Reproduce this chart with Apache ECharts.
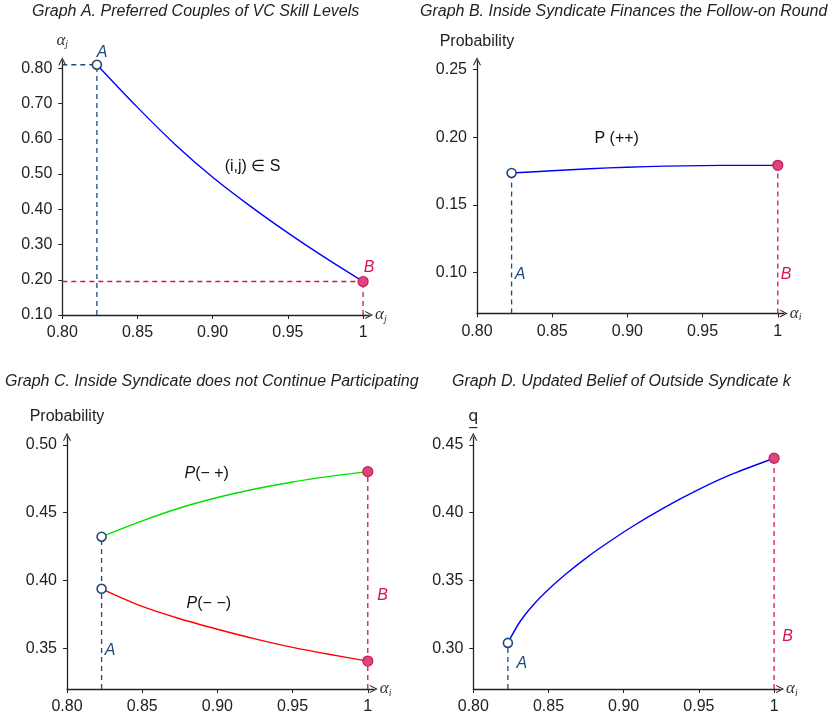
<!DOCTYPE html>
<html>
<head>
<meta charset="utf-8">
<script src="https://cdn.jsdelivr.net/npm/echarts@6/dist/echarts.min.js"></script>
<style>
  html, body { margin: 0; padding: 0; background: #fff; }
  #chart { width: 830px; height: 719px; }
</style>
</head>
<body>
<div id="chart"></div>
<script>
// tick labels
var xTicks = [0.80, 0.85, 0.90, 0.95, 1];
var yTicksA = [0.10, 0.20, 0.30, 0.40, 0.50, 0.60, 0.70, 0.80];
var yTicksB = [0.10, 0.15, 0.20, 0.25];
var yTicksC = [0.35, 0.40, 0.45, 0.50];
var yTicksD = [0.30, 0.35, 0.40, 0.45];

// Graph A: preferred couples
var alphaA = [0.823, 0.85, 0.875, 0.90, 0.925, 0.95, 0.975, 1.0];
var skillJ = [0.810, 0.689, 0.584, 0.491, 0.409, 0.333, 0.262, 0.195];

// Graph B: P(++)
var alphaB = [0.823, 0.85, 0.875, 0.90, 0.925, 0.95, 0.975, 1.0];
var probPP = [0.1736, 0.1752, 0.1767, 0.1778, 0.1786, 0.1790, 0.1792, 0.1792];

// Graph C: P(-+) and P(--)
var alphaC = [0.823, 0.85, 0.875, 0.90, 0.925, 0.95, 0.975, 1.0];
var probMP = [0.4323, 0.4440, 0.4535, 0.4612, 0.4675, 0.4727, 0.4768, 0.4803];
var probMM = [0.3939, 0.3809, 0.3718, 0.3641, 0.3570, 0.3507, 0.3454, 0.3406];

// Graph D: updated belief q
var alphaD = [0.823, 0.831, 0.840, 0.851, 0.862, 0.873, 0.884, 0.905, 0.927, 0.950, 0.972, 1.0];
var beliefQ = [0.304, 0.3196, 0.3322, 0.3445, 0.3552, 0.3649, 0.3738, 0.3893, 0.4038, 0.4172, 0.4284, 0.4402];

var FONT = 'Liberation Sans';
var colA = '#1f4a78';
var colB = '#d0145a';
var arrow = 'path://M0,10 L5,0 L10,10 L8.6,10 L5,2.8 L1.4,10 Z';

function zip(xs, ys) {
    return xs.map(function (x, i) { return [x, ys[i]]; });
}
function first(xs, ys) { return [xs[0], ys[0]]; }
function last(xs, ys) { return [xs[xs.length - 1], ys[ys.length - 1]]; }

var alphaRich = {
    a: { fontFamily: 'Liberation Serif', fontStyle: 'italic', fontSize: 17, color: '#333' },
    s: { fontFamily: 'Liberation Serif', fontStyle: 'italic', fontSize: 10, color: '#333', padding: [8, 0, 0, 0] }
};

function xAxis(gi, sub) {
    return {
        type: 'value', gridIndex: gi, min: 0.80, max: 1.004,
        axisLine: { lineStyle: { color: '#222', width: 1.3 }, symbol: ['none', arrow], symbolSize: [8, 8] },
        axisTick: { customValues: xTicks, length: 4, lineStyle: { color: '#222' } },
        axisLabel: {
            customValues: xTicks, margin: 10, fontSize: 16, color: '#222', fontFamily: FONT,
            formatter: function (v) { return v === 1 ? '1' : v.toFixed(2); }
        },
        splitLine: { show: false },
        name: '{a|α}{s|' + sub + '}', nameLocation: 'end', nameGap: 6,
        nameTextStyle: { rich: alphaRich, verticalAlign: 'middle' }
    };
}

function yAxis(gi, min, max, ticks, name, nameStyle) {
    return {
        type: 'value', gridIndex: gi, min: min, max: max,
        axisLine: { show: true, lineStyle: { color: '#222', width: 1.3 }, symbol: ['none', arrow], symbolSize: [8, 8] },
        axisTick: { show: true, customValues: ticks, length: 4, lineStyle: { color: '#222' } },
        axisLabel: {
            customValues: ticks, margin: 10, fontSize: 16, color: '#222', fontFamily: FONT,
            formatter: function (v) { return v.toFixed(2); }
        },
        splitLine: { show: false },
        name: name, nameLocation: 'end', nameGap: 12,
        nameTextStyle: nameStyle
    };
}

function curve(gi, data, color) {
    return {
        type: 'line', xAxisIndex: gi, yAxisIndex: gi, data: data,
        smooth: 0.3, showSymbol: false, symbol: 'none', z: 3,
        lineStyle: { color: color, width: 1.4 }
    };
}
function dashed(gi, data, color) {
    return {
        type: 'line', xAxisIndex: gi, yAxisIndex: gi, data: data,
        symbol: 'none', z: 2, silent: true,
        lineStyle: { color: color, width: 1.3, type: [5, 4] }
    };
}
function markA(gi, pts) {
    return {
        type: 'scatter', xAxisIndex: gi, yAxisIndex: gi, data: pts, z: 5,
        symbol: 'circle', symbolSize: 9,
        itemStyle: { color: '#fff', borderColor: colA, borderWidth: 1.6, opacity: 1 }
    };
}
function markB(gi, pts) {
    return {
        type: 'scatter', xAxisIndex: gi, yAxisIndex: gi, data: pts, z: 5,
        symbol: 'circle', symbolSize: 10,
        itemStyle: { color: '#d9497a', borderColor: colB, borderWidth: 1.2, opacity: 1 }
    };
}
function note(gi, pos, text, style) {
    return {
        type: 'scatter', xAxisIndex: gi, yAxisIndex: gi, clip: false, silent: true, z: 6,
        symbolSize: 0.1, itemStyle: { color: 'transparent' },
        data: [{ value: pos }],
        label: Object.assign({
            show: true, position: 'inside', formatter: text, opacity: 1,
            fontFamily: FONT, fontSize: 16, color: '#111'
        }, style || {})
    };
}
var italA = { fontStyle: 'italic', color: colA };
var italB = { fontStyle: 'italic', color: colB };
var italP = { rich: { i: { fontStyle: 'italic', fontFamily: FONT, fontSize: 16, color: '#111' } } };

var titleStyle = { fontFamily: FONT, fontStyle: 'italic', fontWeight: 'normal', fontSize: 16, color: '#222' };
var probName = { fontFamily: FONT, fontSize: 16, color: '#222', align: 'center' };

var chart = echarts.init(document.getElementById('chart'));
var option = {
    animation: false,
    title: [
        { text: 'Graph A. Preferred Couples of VC Skill Levels', left: 27, top: -1, textStyle: titleStyle },
        { text: 'Graph B. Inside Syndicate Finances the Follow-on Round', left: 415, top: -1, textStyle: titleStyle },
        { text: 'Graph C. Inside Syndicate does not Continue Participating', left: 0, top: 369, textStyle: titleStyle },
        { text: 'Graph D. Updated Belief of Outside Syndicate k', left: 447, top: 369, textStyle: titleStyle }
    ],
    grid: [
        { left: 62.3, top: 61.2, width: 306.8, height: 253.8, containLabel: false, outerBoundsMode: 'none' },
        { left: 477, top: 61.2, width: 306.8, height: 252.2, containLabel: false, outerBoundsMode: 'none' },
        { left: 67, top: 436.8, width: 306.8, height: 252.2, containLabel: false, outerBoundsMode: 'none' },
        { left: 473.3, top: 436.8, width: 306.8, height: 252.2, containLabel: false, outerBoundsMode: 'none' }
    ],
    xAxis: [xAxis(0, 'j'), xAxis(1, 'i'), xAxis(2, 'i'), xAxis(3, 'i')],
    yAxis: [
        yAxis(0, 0.10, 0.82, yTicksA, '{a|α}{s|j}', { rich: alphaRich, align: 'center' }),
        yAxis(1, 0.07, 0.256, yTicksB, 'Probability', probName),
        yAxis(2, 0.32, 0.506, yTicksC, 'Probability', probName),
        yAxis(3, 0.27, 0.456, yTicksD, 'q\u0332', { fontFamily: 'DejaVu Sans', fontSize: 16, color: '#222', align: 'center' })
    ],
    series: [
        // Graph A
        dashed(0, [[0.80, skillJ[0]], first(alphaA, skillJ)], colA),
        dashed(0, [[alphaA[0], 0.10], first(alphaA, skillJ)], colA),
        dashed(0, [[0.80, skillJ[skillJ.length - 1]], last(alphaA, skillJ)], colB),
        dashed(0, [[1.0, 0.10], last(alphaA, skillJ)], colB),
        curve(0, zip(alphaA, skillJ), '#0000ff'),
        markA(0, [first(alphaA, skillJ)]),
        markB(0, [last(alphaA, skillJ)]),
        note(0, [0.8265, 0.845], 'A', italA),
        note(0, [1.004, 0.235], 'B', italB),
        note(0, [0.9265, 0.521], '(i,j) \u2208 S'),

        // Graph B
        dashed(1, [[alphaB[0], 0.07], first(alphaB, probPP)], colA),
        dashed(1, [[1.0, 0.07], last(alphaB, probPP)], colB),
        curve(1, zip(alphaB, probPP), '#0000ff'),
        markA(1, [first(alphaB, probPP)]),
        markB(1, [last(alphaB, probPP)]),
        note(1, [0.8286, 0.0986], 'A', italA),
        note(1, [1.0055, 0.0986], 'B', italB),
        note(1, [0.8929, 0.1987], 'P (++)'),

        // Graph C
        dashed(2, [[alphaC[0], 0.32], first(alphaC, probMP)], colA),
        dashed(2, [[1.0, 0.32], last(alphaC, probMP)], colB),
        curve(2, zip(alphaC, probMP), '#00e000'),
        curve(2, zip(alphaC, probMM), '#ff0000'),
        markA(2, [first(alphaC, probMP), first(alphaC, probMM)]),
        markB(2, [last(alphaC, probMP), last(alphaC, probMM)]),
        note(2, [0.8286, 0.3487], 'A', italA),
        note(2, [1.0099, 0.3889], 'B', italB),
        note(2, [0.8929, 0.4791], '{i|P}(\u2212 +)', italP),
        note(2, [0.8943, 0.3828], '{i|P}(\u2212 \u2212)', italP),

        // Graph D
        dashed(3, [[alphaD[0], 0.27], first(alphaD, beliefQ)], colA),
        dashed(3, [[1.0, 0.27], last(alphaD, beliefQ)], colB),
        curve(3, zip(alphaD, beliefQ), '#0000ff'),
        markA(3, [first(alphaD, beliefQ)]),
        markB(3, [last(alphaD, beliefQ)]),
        note(3, [0.8322, 0.2889], 'A', italA),
        note(3, [1.0089, 0.3086], 'B', italB)
    ]
};
chart.setOption(option);
window.addEventListener('resize', function () {
    chart.resize();
});
</script>
</body>
</html>
